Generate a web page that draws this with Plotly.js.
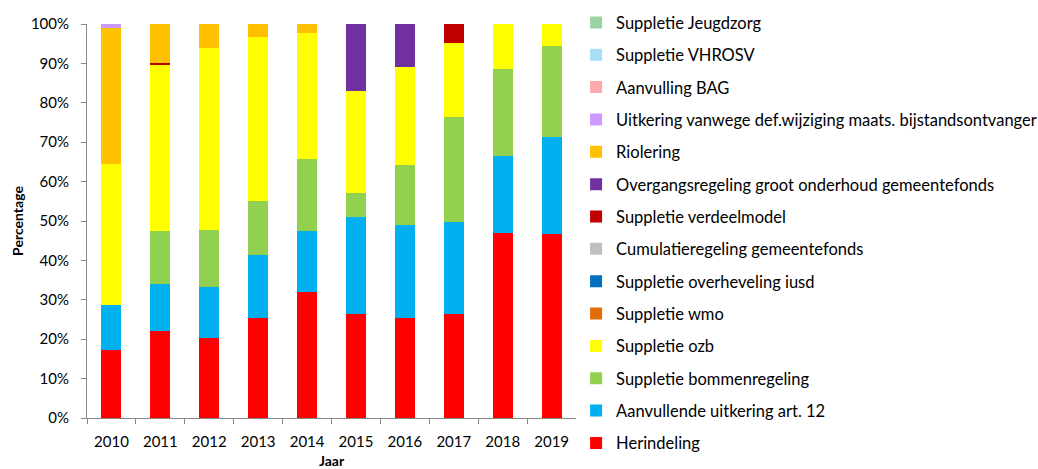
<!DOCTYPE html>
<html>
<head>
<meta charset="utf-8">
<script src="https://cdn.plot.ly/plotly-3.0.1.min.js"></script>
<style>
  html, body { margin: 0; padding: 0; background: #fff; }
  #chart { width: 1038px; height: 469px; }
</style>
</head>
<body>
<div id="chart"></div>
<script>
// years on the x axis
const years = ['2010', '2011', '2012', '2013', '2014', '2015', '2016', '2017', '2018', '2019'];

// shares per component (%)
const herindeling   = [17.2, 22.2, 20.3, 25.3, 32.0, 26.3, 25.3, 26.5, 47.0, 46.8];
const aanvullende   = [11.4, 11.7, 13.0, 16.1, 15.4, 24.8, 23.8, 23.2, 19.5, 24.4];
const bommen        = [0, 13.5, 14.5, 13.8, 18.4, 6.1, 15.0, 26.8, 22.2, 23.1];
const ozb           = [35.9, 42.1, 46.2, 41.5, 31.9, 25.8, 25.1, 18.8, 11.3, 5.7];
const wmo           = [0, 0, 0, 0, 0, 0, 0, 0, 0, 0];
const iusd          = [0, 0, 0, 0, 0, 0, 0, 0, 0, 0];
const cumulatie     = [0, 0, 0, 0, 0, 0, 0, 0, 0, 0];
const verdeelmodel  = [0, 0.6, 0, 0, 0, 0, 0, 4.7, 0, 0];
const overgang      = [0, 0, 0, 0, 0, 17.0, 10.8, 0, 0, 0];
const riolering     = [34.5, 9.9, 6.0, 3.3, 2.3, 0, 0, 0, 0, 0];
const uitkering     = [1.0, 0, 0, 0, 0, 0, 0, 0, 0, 0];
const bag           = [0, 0, 0, 0, 0, 0, 0, 0, 0, 0];
const vhrosv        = [0, 0, 0, 0, 0, 0, 0, 0, 0, 0];
const jeugdzorg     = [0, 0, 0, 0, 0, 0, 0, 0, 0, 0];

// stacking order, bottom to top
const series = [
    ['Herindeling', herindeling, '#FF0000'],
    ['Aanvullende uitkering art. 12', aanvullende, '#00B0F0'],
    ['Suppletie bommenregeling', bommen, '#92D050'],
    ['Suppletie ozb', ozb, '#FFFF00'],
    ['Suppletie wmo', wmo, '#E36C09'],
    ['Suppletie overheveling iusd', iusd, '#0070C0'],
    ['Cumulatieregeling gemeentefonds', cumulatie, '#BFBFBF'],
    ['Suppletie verdeelmodel', verdeelmodel, '#C00000'],
    ['Overgangsregeling groot onderhoud gemeentefonds', overgang, '#7030A0'],
    ['Riolering', riolering, '#FFC000'],
    ['Uitkering vanwege def.wijziging maats. bijstandsontvanger', uitkering, '#CC99FF'],
    ['Aanvulling BAG', bag, '#FFAAAA'],
    ['Suppletie VHROSV', vhrosv, '#A6DDF7'],
    ['Suppletie Jeugdzorg', jeugdzorg, '#9BD3A4']
];

const data = series.map(([name, vals, color], i) => ({
    type: 'bar',
    name: name,
    x: years,
    y: vals,
    legendgroup: 'g' + String(i).padStart(2, '0'),
    legendrank: 100 - i,
    marker: { color: color, line: { width: 0 } }
}));

const layout = {
    width: 1038,
    height: 469,
    barmode: 'stack',
    bargap: 0.59,
    font: { family: 'Lato, "Liberation Sans", sans-serif', size: 15, color: '#000' },
    margin: { l: 87, r: 461, t: 24, b: 51 },
    plot_bgcolor: '#fff',
    paper_bgcolor: '#fff',
    showlegend: true,
    legend: {
        x: 0.555, xref: 'container', xanchor: 'left',
        y: 0.989, yref: 'container', yanchor: 'top',
        traceorder: 'grouped',
        tracegroupgap: 7.9,
        maxheight: 469,
        font: { size: 16.5 },
        itemwidth: 30
    },
    xaxis: {
        type: 'category',
        showline: true, linecolor: '#868686', linewidth: 1,
        ticks: 'outside', ticklen: 5, tickcolor: '#868686',
        tickson: 'boundaries',
        ticklabelstandoff: 10,
        title: { text: '<b>Jaar</b>', standoff: 7, font: { size: 14 } }
    },
    yaxis: {
        range: [0, 100],
        dtick: 10,
        ticksuffix: '%',
        showgrid: false,
        zeroline: false,
        showline: true, linecolor: '#868686', linewidth: 1,
        ticks: 'outside', ticklen: 5, tickcolor: '#868686',
        ticklabelstandoff: 9,
        title: { text: '<b>Percentage</b>', standoff: 3, font: { size: 14 } }
    }
};

Plotly.newPlot('chart', data, layout, { displayModeBar: false, staticPlot: true });
</script>
</body>
</html>
